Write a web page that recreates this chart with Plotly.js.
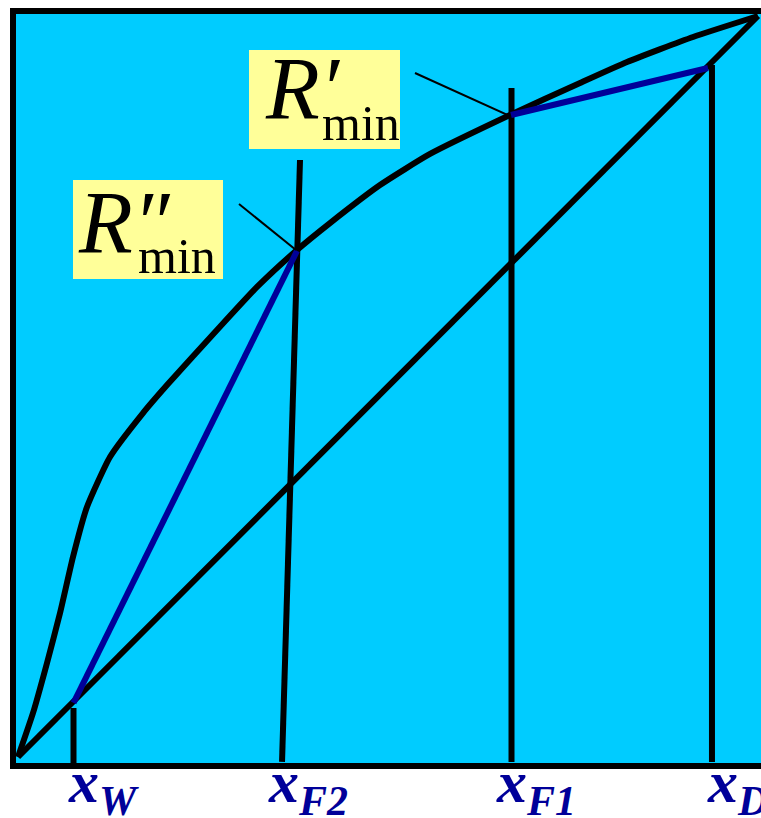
<!DOCTYPE html>
<html>
<head>
<meta charset="utf-8">
<script src="https://cdn.plot.ly/plotly-3.0.1.min.js"></script>
<style>html,body{margin:0;padding:0;background:#fff;}#chart{width:761px;height:818px;}</style>
</head>
<body>
<div id="chart"></div>
<script>
// ---- data (mole fraction, x = liquid, y = vapour) ----
const eqX = [0, 0.0203, 0.0392, 0.0568, 0.0743, 0.0932, 0.1243, 0.1689, 0.2014, 0.2689, 0.3230, 0.3770, 0.4216, 0.4892, 0.5568, 0.6649, 0.7595, 0.8230, 0.9122, 1];
const eqY = [0, 0.0594, 0.1269, 0.1943, 0.2699, 0.3374, 0.4049, 0.4642, 0.5020, 0.5762, 0.6343, 0.6842, 0.7206, 0.7719, 0.8138, 0.8664, 0.9096, 0.9379, 0.9717, 1];
const diagX = [0, 1];
const diagY = [0, 1];
const xW = 0.075, xF1 = 0.6669, xD = 0.9378;
const wLineY = [-0.0081, 0.0661];
const qF2X = [0.3568, 0.3811];
const qF2Y = [-0.0067, 0.8057];
const f1LineY = [-0.0067, 0.9028];
const dLineY = [-0.0067, 0.934];
const opWX = [0.075, 0.377];
const opWY = [0.073, 0.683];
const opDX = [0.6662, 0.9324];
const opDY = [0.8664, 0.9298];
const tickVals = [xW, qF2X[0], xF1, xD];
const tickText = ['x<sub>W</sub>', 'x<sub>F2</sub>', 'x<sub>F1</sub>', 'x<sub>D</sub>'];
const labelR2 = 'R\u2033';
const labelR1 = 'R\u2032';
const labelMin = 'min';

// ---- pixel helpers for decorations ----
const PX = px => (px - 18) / 740;
const PY = py => (757 - py) / 741;

const black = '#000000', navy = '#000099';
const line = (x, y, color, w) => ({x: x, y: y, type: 'scatter', mode: 'lines', line: {color: color, width: w}, hoverinfo: 'skip', showlegend: false});

const traces = [
  line(diagX, diagY, black, 6),
  Object.assign(line(eqX, eqY, black, 6), {line: {color: black, width: 6, shape: 'spline', smoothing: 0.5}}),
  line([xW, xW], wLineY, black, 6),
  line(qF2X, qF2Y, black, 6),
  line([xF1, xF1], f1LineY, black, 6),
  line([xD, xD], dLineY, black, 6),
  line(opWX, opWY, navy, 6),
  line(opDX, opDY, navy, 6)
];

const lblShift = [-8, -16, -18, -7];
const annotations = [];
tickVals.forEach((v, i) => {
  annotations.push({
    x: v, y: PY(747), xref: 'x', yref: 'y', xanchor: 'left', yanchor: 'top', xshift: lblShift[i],
    text: tickText[i], showarrow: false,
    font: {family: 'Liberation Serif', size: 60, color: navy, weight: 'bold', style: 'italic'}
  });
});
annotations.push(
  {x: PX(76), y: PY(222), xanchor: 'left', yanchor: 'middle', text: labelR2, showarrow: false,
   font: {family: 'Liberation Serif', size: 88, color: black, style: 'italic'}},
  {x: PX(136), y: PY(256), xanchor: 'left', yanchor: 'middle', text: labelMin, showarrow: false,
   font: {family: 'Liberation Serif', size: 50, color: black}},
  {x: PX(263), y: PY(88), xanchor: 'left', yanchor: 'middle', text: labelR1, showarrow: false,
   font: {family: 'Liberation Serif', size: 88, color: black, style: 'italic'}},
  {x: PX(320), y: PY(123), xanchor: 'left', yanchor: 'middle', text: labelMin, showarrow: false,
   font: {family: 'Liberation Serif', size: 50, color: black}}
);

const shapes = [
  {type: 'rect', xref: 'x', yref: 'y', x0: PX(73), x1: PX(223), y0: PY(279), y1: PY(180), fillcolor: '#FFFF99', line: {width: 0}, layer: 'above'},
  {type: 'rect', xref: 'x', yref: 'y', x0: PX(249), x1: PX(400), y0: PY(149), y1: PY(50), fillcolor: '#FFFF99', line: {width: 0}, layer: 'above'},
  {type: 'line', xref: 'x', yref: 'y', x0: PX(239), y0: PY(204), x1: PX(296), y1: PY(250), line: {color: black, width: 2}, layer: 'above'},
  {type: 'line', xref: 'x', yref: 'y', x0: PX(415), y0: PY(73), x1: PX(510), y1: PY(116), line: {color: black, width: 2}, layer: 'above'},
  // frame
  {type: 'line', xref: 'paper', yref: 'paper', x0: 0, x1: 0, y0: -3/755, y1: 1 + 3/755, line: {color: black, width: 6}, layer: 'above'},
  {type: 'line', xref: 'paper', yref: 'paper', x0: -3/748, x1: 1.01, y0: 1, y1: 1, line: {color: black, width: 6}, layer: 'above'},
  {type: 'line', xref: 'paper', yref: 'paper', x0: -3/748, x1: 1.01, y0: 0, y1: 0, line: {color: black, width: 6}, layer: 'above'}
];

const layout = {
  width: 761, height: 818, autosize: false,
  margin: {l: 13, r: 0, t: 11, b: 52, pad: 0},
  paper_bgcolor: '#ffffff', plot_bgcolor: '#00CCFF',
  showlegend: false,
  xaxis: {range: [PX(13), PX(761)], showgrid: false, zeroline: false, showticklabels: false, ticks: '', showline: false, fixedrange: true},
  yaxis: {range: [PY(766), PY(11)], showgrid: false, zeroline: false, showticklabels: false, ticks: '', showline: false, fixedrange: true},
  shapes: shapes,
  annotations: annotations
};

Plotly.newPlot('chart', traces, layout, {displayModeBar: false, staticPlot: true});
</script>
</body>
</html>
